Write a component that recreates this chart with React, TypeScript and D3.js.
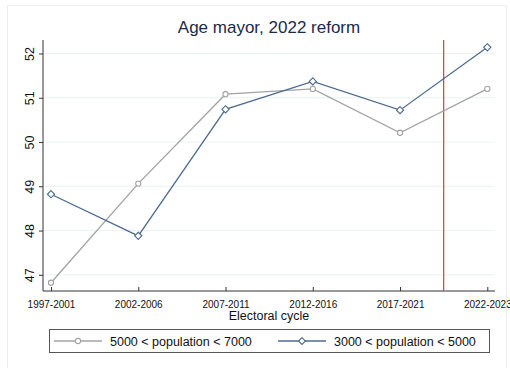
import React, { useEffect, useRef } from "react";
import * as d3 from "d3";

const cycles = ["1997-2001", "2002-2006", "2007-2011", "2012-2016", "2017-2021", "2022-2023"];
const seriesLarge = [46.82, 49.06, 51.08, 51.2, 50.21, 51.2]; // 5000 < population < 7000
const seriesSmall = [48.82, 47.88, 50.74, 51.37, 50.72, 52.14]; // 3000 < population < 5000
const yTicks = [47, 48, 49, 50, 51, 52];
const reformAt = 4.5; // between 2017-2021 and 2022-2023

const grayCol = "#a3a3a3";
const blueCol = "#4d6a8e";
const font = "Liberation Sans, Arial, sans-serif";

const App = () => {
  const svgRef = useRef<SVGSVGElement>(null);

  useEffect(() => {
    const svg = d3.select(svgRef.current);
    svg.selectAll("*").remove();

    const width = 510;
    const height = 368;
    const left = 43;
    const right = 495;
    const top = 40;
    const bottom = 291;

    const x = d3.scaleLinear().domain([0, cycles.length - 1]).range([51, 487.3]);
    const y = d3.scaleLinear().domain([47, 52]).range([274.8, 53.5]);

    // outer panel
    svg.append("rect")
      .attr("x", 0).attr("y", 0).attr("width", width).attr("height", height)
      .attr("fill", "#fff");
    svg.append("rect")
      .attr("x", 7.5).attr("y", 5.5).attr("width", 499).attr("height", 370)
      .attr("fill", "none").attr("stroke", "#eceeee");

    // title
    svg.append("text")
      .attr("x", 269).attr("y", 33)
      .attr("text-anchor", "middle")
      .attr("font-family", font)
      .attr("font-size", 17)
      .attr("fill", "#1c2a48")
      .text("Age mayor, 2022 reform");

    // grid
    svg.selectAll(".grid")
      .data(yTicks)
      .join("line")
      .attr("x1", left).attr("x2", right)
      .attr("y1", (d) => y(d)).attr("y2", (d) => y(d))
      .attr("stroke", "#eaf2f2").attr("stroke-width", 1);

    // y axis, labels rotated like Stata
    const yAxis = d3.axisLeft(y).tickValues(yTicks).tickSize(4).tickFormat(d3.format("d"));
    const gy = svg.append("g").attr("transform", `translate(${left},0)`).call(yAxis);
    gy.select(".domain").attr("d", `M0,${top}V${bottom}`).attr("stroke", "#333");
    gy.selectAll(".tick line").attr("stroke", "#333");
    gy.selectAll(".tick text")
      .attr("transform", "rotate(-90)")
      .attr("x", 0)
      .attr("y", -9)
      .attr("dy", 0)
      .attr("text-anchor", "middle")
      .attr("font-family", font)
      .attr("font-size", 12.5)
      .attr("fill", "#111");

    // x axis
    const xAxis = d3.axisBottom(x).tickValues(d3.range(cycles.length)).tickSize(4)
      .tickFormat((d) => cycles[d as number]);
    const gx = svg.append("g").attr("transform", `translate(0,${bottom})`).call(xAxis);
    gx.select(".domain").attr("d", `M${left},0H${right}`).attr("stroke", "#333");
    gx.selectAll(".tick line").attr("stroke", "#333").attr("y2", -4);
    gx.selectAll(".tick text")
      .attr("y", 10)
      .attr("font-family", font)
      .attr("font-size", 10)
      .attr("fill", "#111");

    svg.append("text")
      .attr("x", 269).attr("y", 320)
      .attr("text-anchor", "middle")
      .attr("font-family", font)
      .attr("font-size", 12.5)
      .attr("fill", "#111")
      .text("Electoral cycle");

    // reform line
    svg.append("line")
      .attr("x1", x(reformAt)).attr("x2", x(reformAt))
      .attr("y1", top).attr("y2", bottom)
      .attr("stroke", "#c8404f").attr("stroke-width", 1.2);

    const line = d3.line<number>().x((_, i) => x(i)).y((d) => y(d));
    const diamond = (cx: number, cy: number, r: number) =>
      `M${cx},${cy - r}L${cx + r},${cy}L${cx},${cy + r}L${cx - r},${cy}Z`;

    svg.append("path").datum(seriesLarge)
      .attr("d", line).attr("fill", "none").attr("stroke", grayCol).attr("stroke-width", 1.3);
    svg.selectAll(".ptL").data(seriesLarge).join("circle")
      .attr("cx", (_, i) => x(i)).attr("cy", (d) => y(d)).attr("r", 2.6)
      .attr("fill", "#fff").attr("stroke", grayCol).attr("stroke-width", 1.1);

    svg.append("path").datum(seriesSmall)
      .attr("d", line).attr("fill", "none").attr("stroke", blueCol).attr("stroke-width", 1.3);
    svg.selectAll(".ptS").data(seriesSmall).join("path")
      .attr("d", (d, i) => diamond(x(i), y(d), 3.6))
      .attr("fill", "#fff").attr("stroke", blueCol).attr("stroke-width", 1.1);

    // legend
    const lg = svg.append("g");
    lg.append("rect")
      .attr("x", 49.5).attr("y", 329.5).attr("width", 440).attr("height", 23)
      .attr("fill", "#fff").attr("stroke", "#555").attr("stroke-width", 1);
    const items = [
      { label: "5000 < population < 7000", col: grayCol, x0: 54, shape: "circle", tx: 110 },
      { label: "3000 < population < 5000", col: blueCol, x0: 278, shape: "diamond", tx: 334 },
    ];
    items.forEach((it) => {
      const cy = 341;
      lg.append("line")
        .attr("x1", it.x0).attr("x2", it.x0 + 48).attr("y1", cy).attr("y2", cy)
        .attr("stroke", it.col).attr("stroke-width", 1.3);
      if (it.shape === "circle") {
        lg.append("circle").attr("cx", it.x0 + 24).attr("cy", cy).attr("r", 2.6)
          .attr("fill", "#fff").attr("stroke", it.col).attr("stroke-width", 1.1);
      } else {
        lg.append("path").attr("d", diamond(it.x0 + 24, cy, 3.4))
          .attr("fill", "#fff").attr("stroke", it.col).attr("stroke-width", 1.1);
      }
      lg.append("text")
        .attr("x", it.tx).attr("y", cy + 4.5)
        .attr("font-family", font)
        .attr("font-size", 12.5)
        .attr("fill", "#111")
        .text(it.label);
    });
  }, []);

  return (
    <svg
      ref={svgRef}
      width={510}
      height={368}
      style={{ position: "absolute", left: 0, top: 0, display: "block" }}
    ></svg>
  );
};

export default App;
